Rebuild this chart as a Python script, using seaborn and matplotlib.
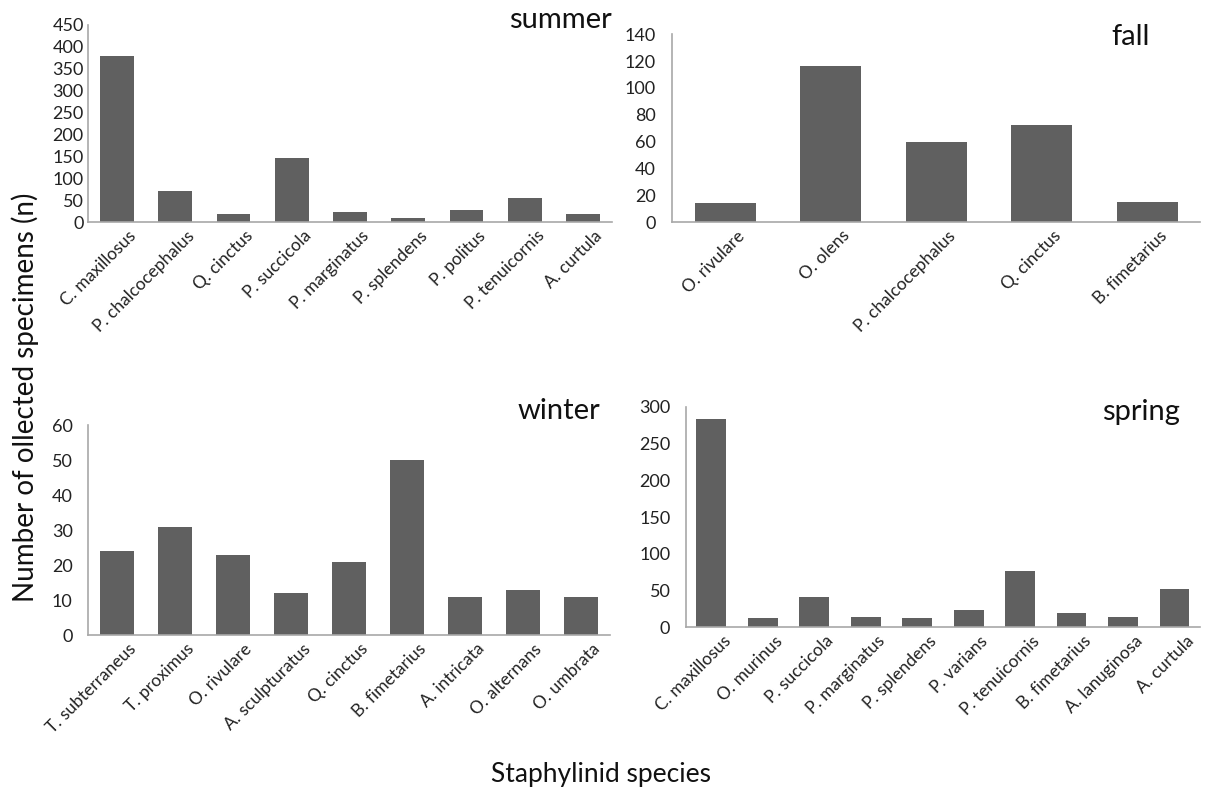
import matplotlib
matplotlib.use("Agg")
import matplotlib.pyplot as plt
import matplotlib.transforms as mtransforms
import seaborn as sns
import pandas as pd

sns.set_theme(style="white")
plt.rcParams["font.family"] = ["Lato", "DejaVu Sans"]

# Counts of collected staphylinid specimens per season
summer_species = ["C. maxillosus", "P. chalcocephalus", "Q. cinctus", "P. succicola",
                  "P. marginatus", "P. splendens", "P. politus", "P. tenuicornis", "A. curtula"]
summer_counts = [379, 71, 18, 147, 24, 9, 27, 55, 18]

fall_species = ["O. rivulare", "O. olens", "P. chalcocephalus", "Q. cinctus", "B. fimetarius"]
fall_counts = [14, 116, 60, 72, 15]

winter_species = ["T. subterraneus", "T. proximus", "O. rivulare", "A. sculpturatus",
                  "Q. cinctus", "B. fimetarius", "A. intricata", "O. alternans", "O. umbrata"]
winter_counts = [24, 31, 23, 12, 21, 50, 11, 13, 11]

spring_species = ["C. maxillosus", "O. murinus", "P. succicola", "P. marginatus", "P. splendens",
                  "P. varians", "P. tenuicornis", "B. fimetarius", "A. lanuginosa", "A. curtula"]
spring_counts = [284, 12, 41, 14, 12, 23, 77, 19, 14, 52]

y_limits = {"summer": (0, 450, 50), "fall": (0, 140, 20),
            "winter": (0, 60, 10), "spring": (0, 300, 50)}

# name, species, counts, axes rect, y tick label pad
panels = [
    ("summer", summer_species, summer_counts, [0.073, 0.721, 0.435, 0.248], 3),
    ("fall", fall_species, fall_counts, [0.558, 0.721, 0.438, 0.236], 12),
    ("winter", winter_species, winter_counts, [0.073, 0.202, 0.433, 0.264], 11),
    ("spring", spring_species, spring_counts, [0.569, 0.212, 0.427, 0.277], 11),
]

title_pos = {"summer": (0.508, 0.965), "fall": (0.954, 0.943),
             "winter": (0.498, 0.473), "spring": (0.979, 0.472)}

fig = plt.figure(figsize=(12.05, 7.96), dpi=100)
bar_color = "#606060"
axis_color = "#a8a8a8"
label_shift = mtransforms.ScaledTranslation(8 / 72, 0, fig.dpi_scale_trans)

for name, species, counts, rect, ypad in panels:
    ax = fig.add_axes(rect)
    df = pd.DataFrame({"species": species, "count": counts})
    sns.barplot(data=df, x="species", y="count", color=bar_color, width=0.58,
                saturation=1, ax=ax, edgecolor="none")
    lo, hi, step = y_limits[name]
    ax.set_ylim(lo, hi)
    ax.set_yticks(range(lo, hi + 1, step))
    ax.set_xlim(-0.5, len(species) - 0.5)
    ax.set_xlabel("")
    ax.set_ylabel("")
    for s in ["top", "right"]:
        ax.spines[s].set_visible(False)
    for s in ["left", "bottom"]:
        ax.spines[s].set_color(axis_color)
        ax.spines[s].set_linewidth(1.2)
    ax.tick_params(axis="both", length=0, colors="#222222")
    ax.tick_params(axis="y", labelsize=13, pad=ypad)
    ax.tick_params(axis="x", labelsize=12.5, pad=4)
    for lab in ax.get_xticklabels():
        lab.set_rotation(45)
        lab.set_ha("right")
        lab.set_va("top")
        lab.set_rotation_mode("anchor")
        lab.set_transform(lab.get_transform() + label_shift)
    tx, ty = title_pos[name]
    fig.text(tx, ty, name, ha="right", va="baseline", fontsize=21, color="#111111")

fig.text(0.021, 0.501, "Number of ollected specimens (n)", rotation=90,
         ha="center", va="center", fontsize=20, color="#111111")
fig.text(0.499, 0.027, "Staphylinid species", ha="center", va="center",
         fontsize=19, color="#111111")

fig.savefig("out.png", dpi=100, facecolor="white")
